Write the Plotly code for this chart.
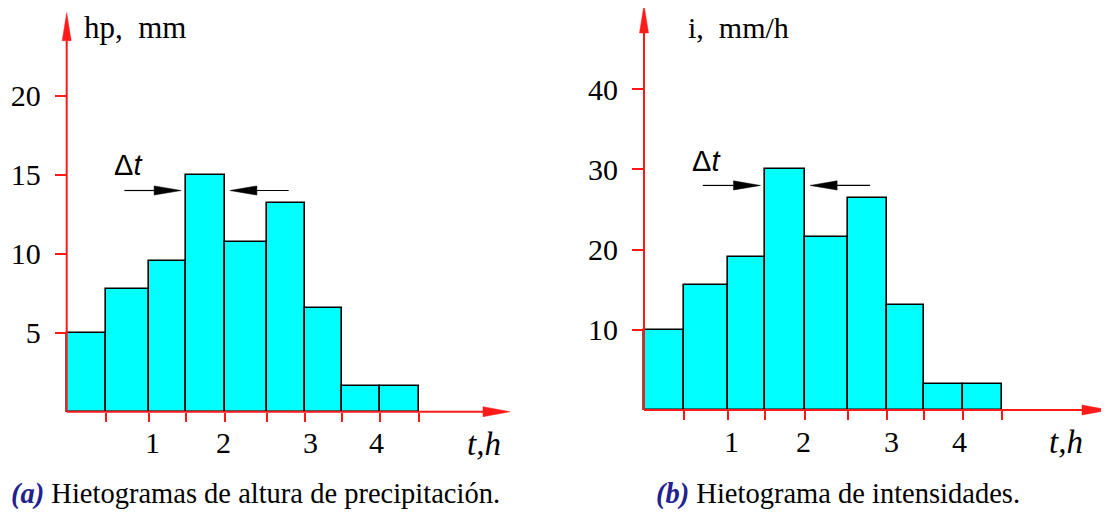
import plotly.graph_objects as go

# ---------------- data ----------------
t_edges = [0, 0.5, 1.055, 1.525, 2.03, 2.565, 3.055, 3.525, 4.015, 4.515]   # h
hp_mm = [5.0, 7.75, 9.55, 15.0, 10.75, 13.2, 6.55, 1.6, 1.6]               # mm
i_mmh = [10.0, 15.6, 19.1, 30.0, 21.6, 26.4, 13.1, 3.2, 3.2]               # mm/h
hp_ticks = [5, 10, 15, 20]
i_ticks = [10, 20, 30, 40]
t_label_pos = [1.10, 2.015, 3.12, 3.975]
t_labels = ["1", "2", "3", "4"]
dt_arrow_left = [0.74, 1.467]     # tail, tip (h)
dt_arrow_right = [2.846, 2.092]   # tail, tip (h)
dt_arrow_hp = 14.0
dt_arrow_i = 28.0
dt_label_t = 0.79
dt_label_hp = 15.6
dt_label_i = 31.0

OFF = 8                      # page body margin
WIN_W, WIN_H = 1109, 512
W, H = WIN_W - OFF, WIN_H - OFF
# pixel calibration of each panel (window pixels)
P = {
    "a": dict(x0=66.7, xs=78.0, y0=411.7, ys=15.8, xtip=510, ytip=12.7),
    "b": dict(x0=644.0, xs=79.4, y0=410.0, ys=8.02, xtip=1109, ytip=5.0),
}

RED = "#ff1a1a"
SERIF = "Liberation Serif"
SANS = "Liberation Sans"

centers = [(a + b) / 2 for a, b in zip(t_edges[:-1], t_edges[1:])]
widths = [b - a for a, b in zip(t_edges[:-1], t_edges[1:])]

fig = go.Figure()
shapes = []
annotations = []


def tx(p, px):
    return (px - p["x0"]) / p["xs"]


def ty(p, py):
    return (p["y0"] - py) / p["ys"]


split_f = (554 - OFF) / W
for key, vals, ticks, ax in [("a", hp_mm, hp_ticks, ""), ("b", i_mmh, i_ticks, "2")]:
    p = P[key]
    xr, yr = "x" + ax, "y" + ax
    fig.add_trace(go.Bar(
        x=centers, y=vals, width=widths, xaxis=xr, yaxis=yr,
        marker=dict(color="#00ffff", line=dict(color="black", width=1.6)),
        showlegend=False, hoverinfo="skip"))
    dom = [0, split_f] if key == "a" else [split_f, 1]
    dom_px = [dom[0] * W + OFF, dom[1] * W + OFF]
    xaxis = dict(domain=dom, range=[tx(p, dom_px[0]), tx(p, dom_px[1])],
                 anchor="free", position=(WIN_H - p["y0"]) / H,
                 tickmode="array", tickvals=t_edges[1:], ticktext=[""] * (len(t_edges) - 1),
                 ticks="outside", ticklen=9, tickwidth=1.5, tickcolor=RED,
                 showline=False, showgrid=False, zeroline=False, fixedrange=True)
    yaxis = dict(domain=[0, 1], range=[ty(p, WIN_H), ty(p, OFF)],
                 anchor="free", position=(p["x0"] - OFF) / W,
                 tickmode="array", tickvals=ticks,
                 ticks="outside", ticklen=12, tickwidth=1.5, tickcolor=RED,
                 ticklabelstandoff=8,
                 tickfont=dict(family=SERIF, size=30, color="black"),
                 showline=False, showgrid=False, zeroline=False, fixedrange=True)
    if ax == "":
        fig.update_layout(xaxis=xaxis, yaxis=yaxis)
    else:
        fig.update_layout(xaxis2=xaxis, yaxis2=yaxis)

    # axis lines
    xt = tx(p, p["xtip"]); xb = tx(p, p["xtip"] - 27)
    yt = ty(p, p["ytip"]); yb = ty(p, p["ytip"] + 28)
    hw_y = 5 / p["ys"]; hw_x = 4.5 / p["xs"]
    shapes.append(dict(type="line", xref=xr, yref=yr, x0=0, y0=0, x1=xb, y1=0,
                       line=dict(color=RED, width=2), layer="above"))
    shapes.append(dict(type="path", xref=xr, yref=yr,
                       path=f"M {xb},{hw_y} L {xt},0 L {xb},{-hw_y} Z",
                       fillcolor=RED, line=dict(color=RED, width=0.5), layer="above"))
    shapes.append(dict(type="line", xref=xr, yref=yr, x0=0, y0=0, x1=0, y1=yb,
                       line=dict(color=RED, width=2), layer="above"))
    shapes.append(dict(type="path", xref=xr, yref=yr,
                       path=f"M {-hw_x},{yb} L 0,{yt} L {hw_x},{yb} Z",
                       fillcolor=RED, line=dict(color=RED, width=0.5), layer="above"))

    # delta-t arrows
    ya = dt_arrow_hp if key == "a" else dt_arrow_i
    hl = 27 / p["xs"]; hh = 4.6 / p["ys"]
    for tail, tip in [dt_arrow_left, dt_arrow_right]:
        sgn = 1 if tip > tail else -1
        base = tip - sgn * hl
        shapes.append(dict(type="line", xref=xr, yref=yr, x0=tail, y0=ya, x1=base, y1=ya,
                           line=dict(color="black", width=1.2)))
        shapes.append(dict(type="path", xref=xr, yref=yr,
                           path=f"M {base},{ya + hh} L {tip},{ya} L {base},{ya - hh} Z",
                           fillcolor="black", line=dict(color="black", width=0.5)))
    annotations.append(dict(xref=xr, yref=yr, x=dt_label_t,
                            y=dt_label_hp if key == "a" else dt_label_i,
                            text="Δ<i>t</i>", showarrow=False,
                            font=dict(family=SANS, size=29, color="black"),
                            xanchor="center", yanchor="middle"))
    # x tick labels
    for pos, lab in zip(t_label_pos, t_labels):
        annotations.append(dict(xref=xr, yref=yr, x=pos, y=0, yshift=-31, text=lab,
                                showarrow=False, xanchor="center", yanchor="middle",
                                font=dict(family=SERIF, size=30, color="black")))
    # axis titles
    annotations.append(dict(xref=xr, yref=yr, x=tx(p, 484 if key == "a" else 1066), y=0,
                            yshift=-32, text="<i>t,h</i>", showarrow=False,
                            xanchor="center", yanchor="middle",
                            font=dict(family=SERIF, size=33, color="black")))


def paper_x(px):
    return (px - OFF) / W


def paper_y(py):
    return (WIN_H - py) / H


annotations.append(dict(xref="paper", yref="paper", x=paper_x(82), y=paper_y(28),
                        text="hp,  mm", showarrow=False, xanchor="left", yanchor="middle",
                        font=dict(family=SERIF, size=31, color="black")))
annotations.append(dict(xref="paper", yref="paper", x=paper_x(686), y=paper_y(28),
                        text="i,  mm/h", showarrow=False, xanchor="left", yanchor="middle",
                        font=dict(family=SERIF, size=30, color="black")))
annotations.append(dict(xref="paper", yref="paper", x=paper_x(255), y=paper_y(494),
                        text="<span style='color:#22228f'><b><i>(a)</i></b></span> Hietogramas de altura de precipitación.",
                        showarrow=False, xanchor="center", yanchor="middle",
                        font=dict(family=SERIF, size=28.5, color="black")))
annotations.append(dict(xref="paper", yref="paper", x=paper_x(838), y=paper_y(494),
                        text="<span style='color:#22228f'><b><i>(b)</i></b></span> Hietograma de intensidades.",
                        showarrow=False, xanchor="center", yanchor="middle",
                        font=dict(family=SERIF, size=28.5, color="black")))

fig.update_layout(width=W, height=H, margin=dict(l=0, r=0, t=0, b=0),
                  paper_bgcolor="white", plot_bgcolor="white",
                  shapes=shapes, annotations=annotations, bargap=0)
fig.write_html("out.html", config={"displayModeBar": False})
